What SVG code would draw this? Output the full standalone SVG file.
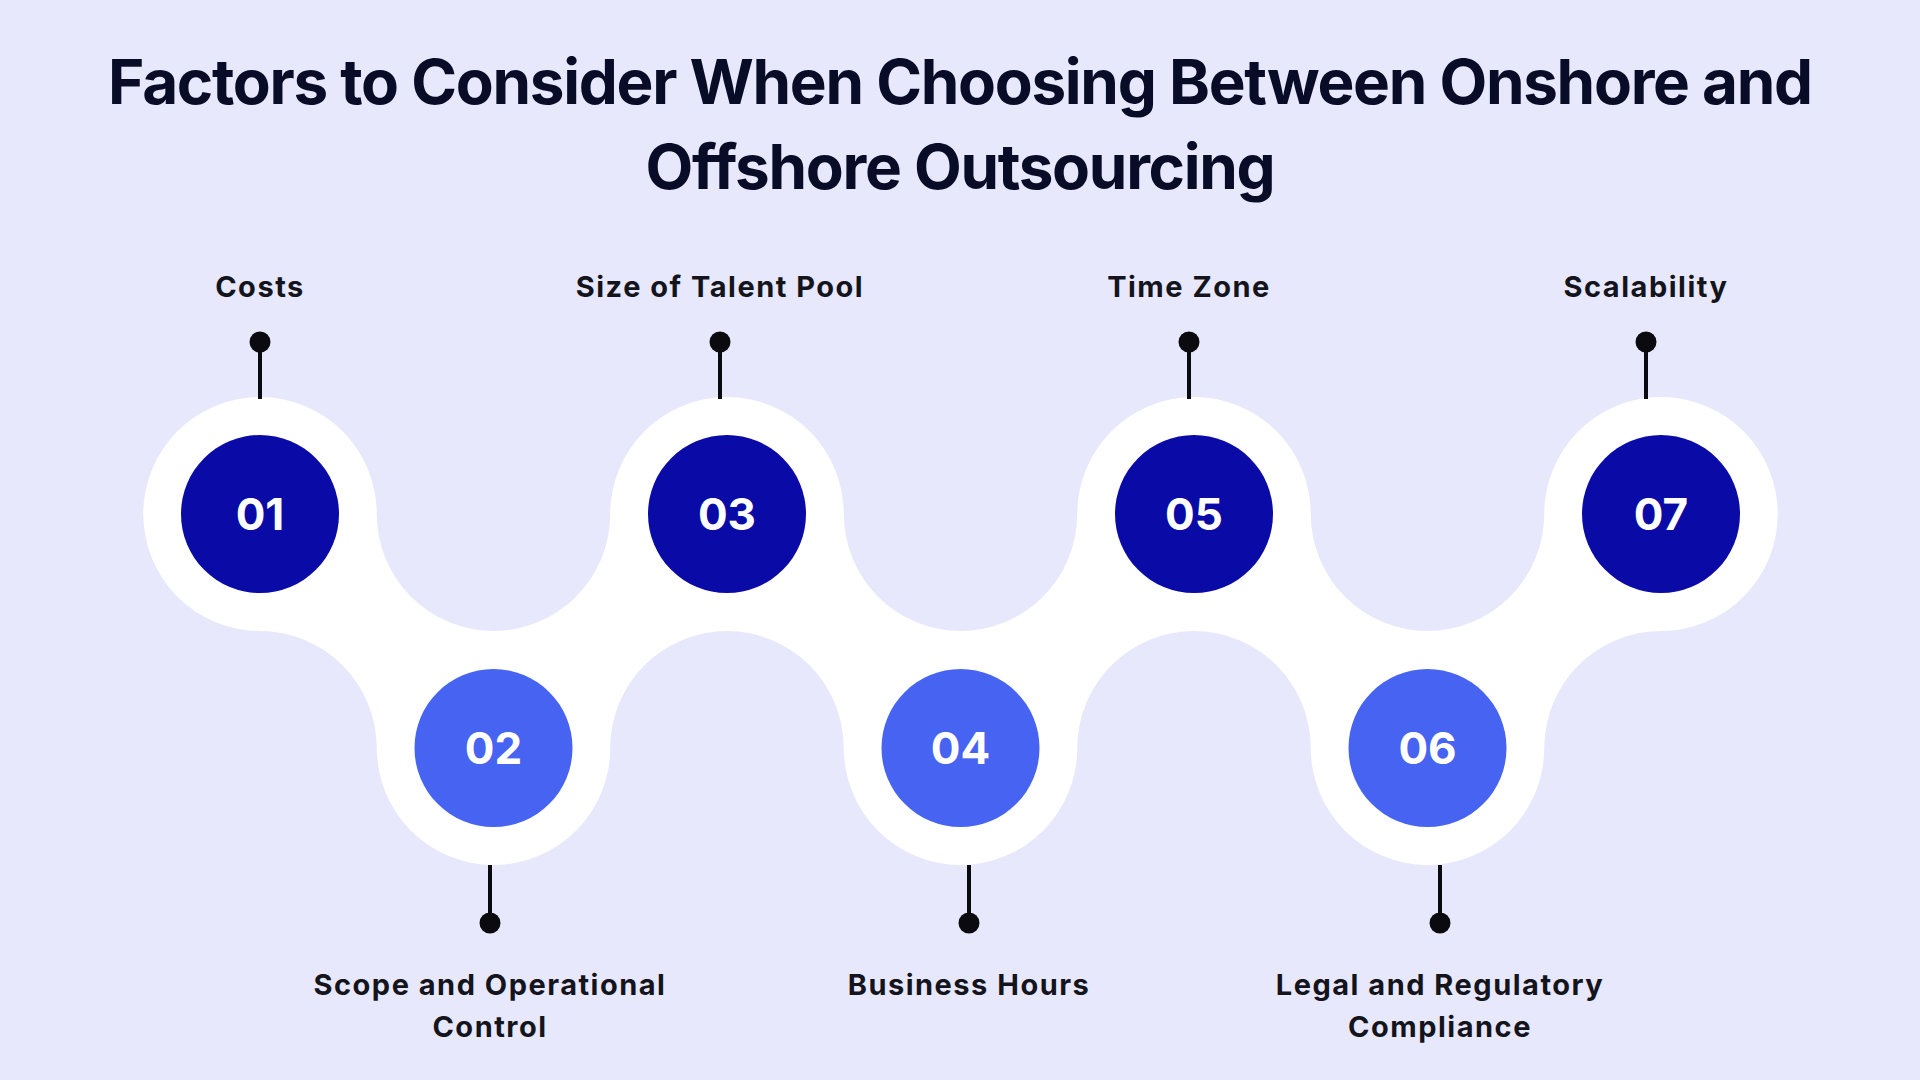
<svg xmlns="http://www.w3.org/2000/svg" width="1920" height="1080" viewBox="0 0 1920 1080">
  <style>
    .title { font-family: Inter, "Liberation Sans", sans-serif; font-weight: 700; font-size: 62px; fill: #090C27; text-anchor: middle; letter-spacing: -1.3px; }
    .label { font-family: Inter, "Liberation Sans", sans-serif; font-weight: 700; font-size: 29px; fill: #14141C; text-anchor: middle; letter-spacing: 1.5px; }
    .num { font-family: Inter, "Liberation Sans", sans-serif; font-weight: 700; font-size: 44px; fill: #FFFFFF; text-anchor: middle; }
    .dark { fill: #0A0BA7; }
    .light { fill: #4663F1; }
    .stem { stroke: #0A0A0F; stroke-width: 4; }
    .dot { fill: #0A0A0F; }
  </style>
  <rect width="1920" height="1080" fill="#E8E8FD"/>
  <text class="title" x="960" y="104">Factors to Consider When Choosing Between Onshore and</text>
  <text class="title" x="960" y="189">Offshore Outsourcing</text>

  <path id="band" fill="#FFFFFF" d="M 260 397 A 116.75 117 0 0 1 376.75 514 A 116.75 117 0 0 0 610.25 514 A 116.75 117 0 0 1 843.75 514 A 116.75 117 0 0 0 1077.25 514 A 116.75 117 0 0 1 1310.75 514 A 116.75 117 0 0 0 1544.25 514 A 116.75 117 0 1 1 1661 631 A 116.75 117 0 0 0 1544.25 748 A 116.75 117 0 0 1 1310.75 748 A 116.75 117 0 0 0 1077.25 748 A 116.75 117 0 0 1 843.75 748 A 116.75 117 0 0 0 610.25 748 A 116.75 117 0 0 1 376.75 748 A 116.75 117 0 0 0 260 631 A 116.75 117 0 1 1 260 397 Z"/>

  <g id="connectors">
    <line class="stem" x1="260" y1="342" x2="260" y2="399"/>
    <circle class="dot" cx="260" cy="342" r="10.5"/>
    <line class="stem" x1="490" y1="865" x2="490" y2="923"/>
    <circle class="dot" cx="490" cy="923" r="10.5"/>
    <line class="stem" x1="720" y1="342" x2="720" y2="399"/>
    <circle class="dot" cx="720" cy="342" r="10.5"/>
    <line class="stem" x1="969" y1="865" x2="969" y2="923"/>
    <circle class="dot" cx="969" cy="923" r="10.5"/>
    <line class="stem" x1="1189" y1="342" x2="1189" y2="399"/>
    <circle class="dot" cx="1189" cy="342" r="10.5"/>
    <line class="stem" x1="1440" y1="865" x2="1440" y2="923"/>
    <circle class="dot" cx="1440" cy="923" r="10.5"/>
    <line class="stem" x1="1646" y1="342" x2="1646" y2="399"/>
    <circle class="dot" cx="1646" cy="342" r="10.5"/>
  </g>

  <g id="node01">
    <circle class="dark" cx="260" cy="514" r="79"/>
    <text class="num" x="260" y="530">01</text>
    <text class="label" x="260" y="297">Costs</text>
  </g>
  <g id="node02">
    <circle class="light" cx="493.5" cy="748" r="79"/>
    <text class="num" x="493.5" y="764">02</text>
    <text class="label" x="490" y="995">Scope and Operational</text>
    <text class="label" x="490" y="1037">Control</text>
  </g>
  <g id="node03">
    <circle class="dark" cx="727" cy="514" r="79"/>
    <text class="num" x="727" y="530">03</text>
    <text class="label" x="720" y="297">Size of Talent Pool</text>
  </g>
  <g id="node04">
    <circle class="light" cx="960.5" cy="748" r="79"/>
    <text class="num" x="960.5" y="764">04</text>
    <text class="label" x="969" y="995">Business Hours</text>
  </g>
  <g id="node05">
    <circle class="dark" cx="1194" cy="514" r="79"/>
    <text class="num" x="1194" y="530">05</text>
    <text class="label" x="1189" y="297">Time Zone</text>
  </g>
  <g id="node06">
    <circle class="light" cx="1427.5" cy="748" r="79"/>
    <text class="num" x="1427.5" y="764">06</text>
    <text class="label" x="1440" y="995">Legal and Regulatory</text>
    <text class="label" x="1440" y="1037">Compliance</text>
  </g>
  <g id="node07">
    <circle class="dark" cx="1661" cy="514" r="79"/>
    <text class="num" x="1661" y="530">07</text>
    <text class="label" x="1646" y="297">Scalability</text>
  </g>
</svg>
